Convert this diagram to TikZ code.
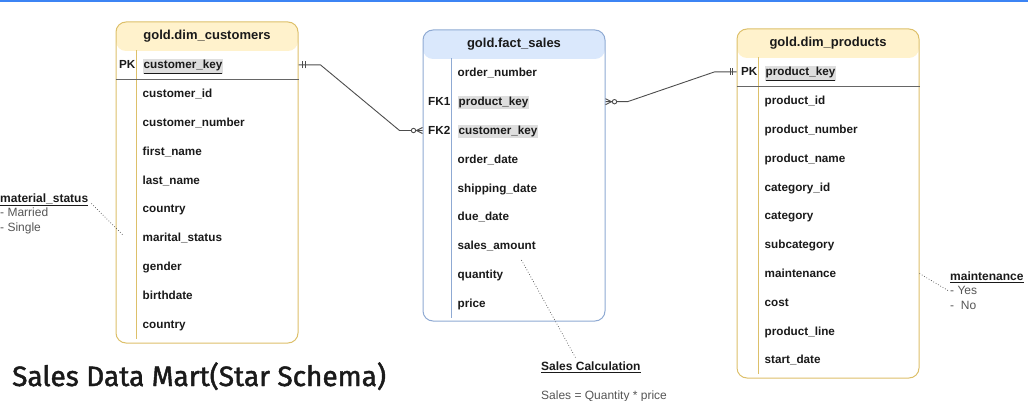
\documentclass[tikz,border=0pt]{standalone}
\usepackage{fontspec}
\setmainfont{Liberation Sans}
\newfontfamily\titlefont{Fira Sans}[FakeBold=1.6]
\usetikzlibrary{positioning, calc}

\definecolor{custfill}{HTML}{FFF2CC}
\definecolor{custline}{HTML}{DDC06A}
\definecolor{factfill}{HTML}{DAE8FC}
\definecolor{factline}{HTML}{8FAAD3}
\definecolor{fieldtext}{HTML}{1A1A1A}
\definecolor{keyfill}{HTML}{DEDEDE}
\definecolor{keyline}{HTML}{666666}
\definecolor{relgray}{HTML}{4D4D4D}
\definecolor{notegray}{HTML}{555555}
\definecolor{topblue}{HTML}{3C84F4}

\newcommand\keymark[1]{{\setlength{\fboxsep}{1pt}\colorbox{keyfill}{#1}}}

\tikzset{
    tablebox/.style 2 args={rectangle, rounded corners=10pt, draw=#1, line width=1pt,
        fill=white, inner sep=0pt, minimum width=182pt,
        path picture={\fill[#2] (path picture bounding box.north west)
            rectangle ([yshift=-29pt]path picture bounding box.north east);}},
    headtext/.style={inner sep=0pt, text=fieldtext, font=\bfseries\fontsize{13}{15}\selectfont},
    field/.style={anchor=north west, text width=140pt, align=left, minimum height=28.4pt,
        inner sep=0pt, text height=10pt, text depth=2pt, text=fieldtext,
        font=\bfseries\fontsize{11.7}{14}\selectfont},
    keylabel/.style={inner sep=0pt, text height=10pt, text depth=2pt, text=fieldtext,
        font=\bfseries\fontsize{11.7}{14}\selectfont},
    rel/.style={draw=relgray, line width=0.9pt},
    noteline/.style={draw=relgray, line width=0.7pt, dotted},
    note/.style={inner sep=0pt, align=left, text=fieldtext,
        font=\fontsize{12}{14.5}\selectfont},
    titletext/.style={inner sep=0pt, text=fieldtext, font=\titlefont\fontsize{28}{32}\selectfont},
    pics/onemark/.style={code={
        \draw[rel] (4pt,-3.5pt) -- (4pt,3.5pt) (6.5pt,-3.5pt) -- (6.5pt,3.5pt);}},
    pics/manymark/.style={code={
        \draw[rel] (0,3pt) -- (6pt,0) -- (0,-3pt);
        \draw[rel, fill=white] (9pt,0) circle (2.2pt);}},
}

\begin{document}
\begin{tikzpicture}[x=1pt, y=1pt]
    \useasboundingbox (0,0) rectangle (1028,-401);
    \fill[topblue] (0,0) rectangle (1028,-2);

    \node[tablebox={custline}{custfill}, minimum height=321pt] (custT) at (207,-182.5) {};
    \node[headtext] (custH) at ([yshift=-15pt]custT.north) {gold.dim\_customers};
    \node[field] (c0) at ([xshift=27pt, yshift=-29pt]custT.north west) {\keymark{\underline{customer\_key}}};
    \node[field] (c1) [below=0pt of c0] {customer\_id};
    \node[field] (c2) [below=0pt of c1] {customer\_number};
    \node[field] (c3) [below=0pt of c2] {first\_name};
    \node[field] (c4) [below=0pt of c3] {last\_name};
    \node[field] (c5) [below=0pt of c4] {country};
    \node[field] (c6) [below=0pt of c5] {marital\_status};
    \node[field] (c7) [below=0pt of c6] {gender};
    \node[field] (c8) [below=0pt of c7] {birthdate};
    \node[field] (c9) [below=0pt of c8] {country};
    \node[keylabel] (pkC) [left=7pt of c0] {PK};
    \draw[custline, line width=1pt] ([xshift=-6pt]c0.north west) -- ([xshift=-6pt]c9.south west);
    \draw[keyline, line width=0.9pt] (custT.west |- c0.south) -- (custT.east |- c0.south);

    \node[tablebox={factline}{factfill}, minimum height=291pt] (factT) at (514,-175.5) {};
    \node[headtext] (factH) at ([yshift=-15pt]factT.north) {gold.fact\_sales};
    \node[field] (f0) at ([xshift=35pt, yshift=-29pt]factT.north west) {order\_number};
    \node[field] (f1) [below=0pt of f0] {\keymark{product\_key}};
    \node[field] (f2) [below=0pt of f1] {\keymark{customer\_key}};
    \node[field] (f3) [below=0pt of f2] {order\_date};
    \node[field] (f4) [below=0pt of f3] {shipping\_date};
    \node[field] (f5) [below=0pt of f4] {due\_date};
    \node[field] (f6) [below=0pt of f5] {sales\_amount};
    \node[field] (f7) [below=0pt of f6] {quantity};
    \node[field] (f8) [below=0pt of f7] {price};
    \node[keylabel] (fk1) [left=7pt of f1] {FK1};
    \node[keylabel] (fk2) [left=7pt of f2] {FK2};
    \draw[factline, line width=1pt] ([xshift=-6pt]f0.north west) -- ([xshift=-6pt]f8.south west);

    \node[tablebox={custline}{custfill}, minimum height=349pt] (prodT) at (828,-203.5) {};
    \node[headtext] (prodH) at ([yshift=-15pt]prodT.north) {gold.dim\_products};
    \node[field] (p0) at ([xshift=28pt, yshift=-29pt]prodT.north west) {\keymark{\underline{product\_key}}};
    \node[field] (p1) [below=0pt of p0] {product\_id};
    \node[field] (p2) [below=0pt of p1] {product\_number};
    \node[field] (p3) [below=0pt of p2] {product\_name};
    \node[field] (p4) [below=0pt of p3] {category\_id};
    \node[field] (p5) [below=0pt of p4] {category};
    \node[field] (p6) [below=0pt of p5] {subcategory};
    \node[field] (p7) [below=0pt of p6] {maintenance};
    \node[field] (p8) [below=0pt of p7] {cost};
    \node[field] (p9) [below=0pt of p8] {product\_line};
    \node[field] (p10) [below=0pt of p9] {start\_date};
    \node[keylabel] (pkP) [left=7pt of p0] {PK};
    \draw[custline, line width=1pt] ([xshift=-6pt]p0.north west) -- ([xshift=-6pt]p10.south west);
    \draw[keyline, line width=0.9pt] (prodT.west |- p0.south) -- (prodT.east |- p0.south);

    \draw[rel] (custT.east |- c0) -- ++(22pt,0) -- ($(factT.west |- f2)+(-23pt,0)$) -- (factT.west |- f2);
    \draw[rel] (factT.east |- f1) -- ++(22pt,0) -- ($(prodT.west |- p0)+(-22pt,0)$) -- (prodT.west |- p0);
    \pic at (custT.east |- c0) {onemark};
    \pic[rotate=180] at (factT.west |- f2) {manymark};
    \pic at (factT.east |- f1) {manymark};
    \pic[rotate=180] at (prodT.west |- p0) {onemark};

    \node[note, anchor=north west] (matNote) at (0,-193.5)
        {\underline{\bfseries material\_status}\\ \textcolor{notegray}{- Married}\\ \textcolor{notegray}{- Single}};
    \node[note, anchor=north west] (maintNote) at (950,-271.5)
        {\underline{\bfseries maintenance}\\ \textcolor{notegray}{- Yes}\\ \textcolor{notegray}{-\ \ No}};
    \node[note, anchor=north west] (calcNote) at (541,-361.5)
        {\underline{\bfseries Sales Calculation}\\[14.5pt] \textcolor{notegray}{Sales = Quantity * price}};
    \draw[noteline] ($(matNote.north east)+(3pt,-10pt)$) -- ($(c6.west)+(-20pt,3pt)$);
    \draw[noteline] (prodT.east |- p7) -- ($(maintNote.north west)+(-2pt,-19pt)$);
    \draw[noteline] ($(f6.south west)+(64pt,0)$) -- ($(calcNote.north west)+(35pt,3pt)$);

    \node[titletext, anchor=base west] (title) at (12,-386) {Sales Data Mart(Star Schema)};
\end{tikzpicture}
\end{document}
